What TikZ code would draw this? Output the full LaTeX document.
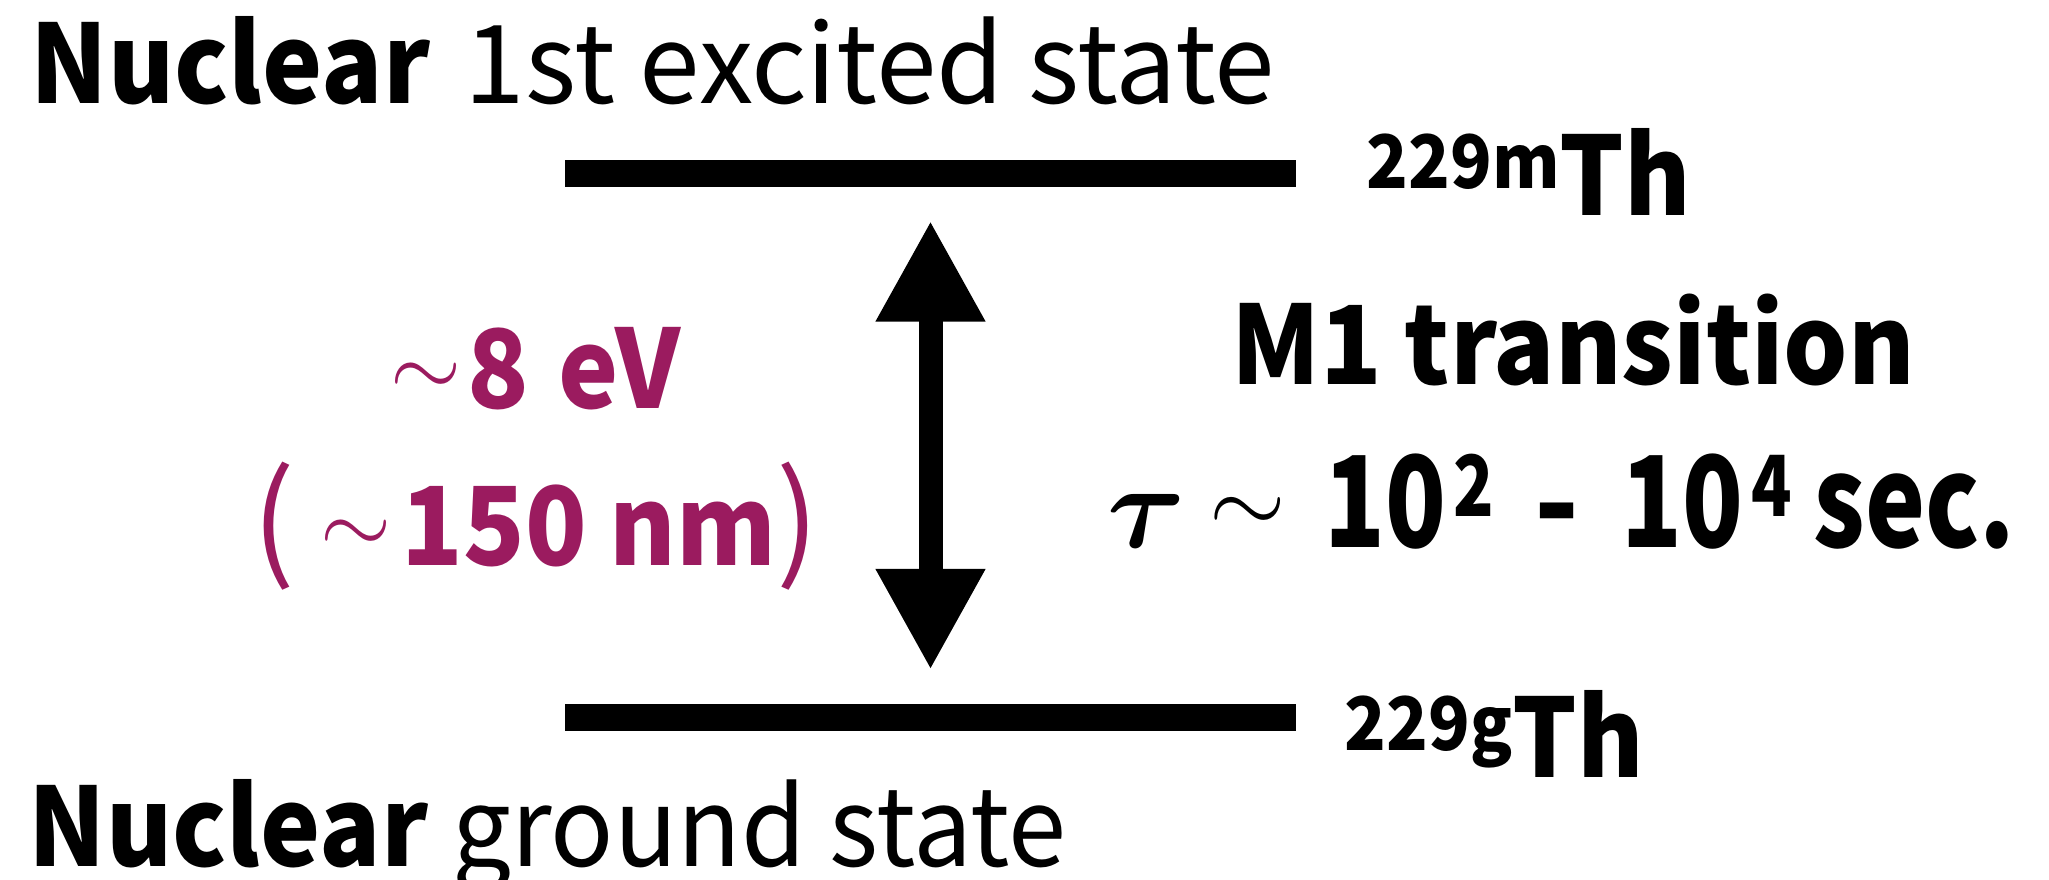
\RequirePackage{fix-cm}
\documentclass[tikz,border=0pt]{standalone}
\usepackage{fontspec}
\setmainfont{Noto Sans CJK JP}[BoldFeatures={FakeStretch=0.93}]
\usetikzlibrary{arrows.meta,positioning}
\definecolor{plum}{RGB}{155,27,95}
\newcommand{\isotope}[1]{\raisebox{0.27cm}{\fontsize{21}{21}\selectfont #1}}
\newcommand{\expo}[1]{\raisebox{0.31cm}{\fontsize{24}{24}\selectfont\scalebox{0.85}[1]{#1}}}
\newcommand{\wave}[2]{\raisebox{#2}{\fontsize{#1}{#1}\selectfont$\sim$}}
\newcommand{\slot}[2]{\makebox[#1][l]{#2}}
\newcommand{\narrow}[1]{\scalebox{0.85}[1]{#1}}

\begin{document}
\begin{tikzpicture}[
    level/.style={fill=black, minimum width=7.31cm, minimum height=0.27cm, inner sep=0pt},
    transit/.style={{Triangle[length=10.1mm, width=10.3mm]}-{Triangle[length=10.1mm, width=10.3mm]}, line width=0.24cm},
    lbl/.style={inner sep=0pt, font=\fontsize{31}{37}\selectfont},
    bold/.style={lbl, font=\fontsize{31}{37}\selectfont\bfseries},
    energy/.style={bold, text=plum}
]
\useasboundingbox (0,0) rectangle (20.49,8.79);
% energy levels
\node[level] (excited) at (9.305,7.055) {};
\node[level] (ground) at (9.305,1.62) {};
\node[lbl, anchor=base west] (exclabel) at (0.30,7.76) {\textbf{Nuclear}\hspace{0.35cm}1st excited state};
\node[lbl, anchor=base west] (gndlabel) at (0.28,0.13) {\textbf{Nuclear} {\addfontfeatures{FakeStretch=0.96}ground state}};
\node[bold, anchor=base west] (thm) at (13.66,6.64) {\isotope{229m}Th};
\node[bold, anchor=base west] (thg) at (13.44,1.02) {\isotope{229g}Th};
% transition
\node[energy, anchor=base] (ev) at (5.36,4.71) {\wave{26}{0.12cm}\hspace{0.05cm}8\hspace{0.3cm}eV};
\node[energy, anchor=base] (nm) at (5.36,3.14) {{\mdseries\fontsize{36}{36}\selectfont(}\hspace{0.25cm}\wave{26}{0.12cm}\hspace{0.1cm}150 nm{\mdseries\fontsize{36}{36}\selectfont)}};
\node[bold, anchor=base] (m1) at (15.73,4.95) {M1 transition};
\node[lbl, anchor=base west, font=\fontsize{36}{40}\selectfont\bfseries] (tau) at (11.07,3.32) {\slot{1.02cm}{\boldmath\fontsize{34}{34}\selectfont$\tau$}\slot{1.15cm}{\wave{28}{0.14cm}}\slot{1.29cm}{\narrow{10}}\slot{0.81cm}{\expo{2}}\slot{0.87cm}{-}\slot{1.30cm}{\narrow{10}}\slot{0.62cm}{\expo{4}}\scalebox{0.86}[1]{sec.}};
\draw[transit] ([yshift=-0.33cm]excited.south) -- ([yshift=0.33cm]ground.north);
\end{tikzpicture}
\end{document}
